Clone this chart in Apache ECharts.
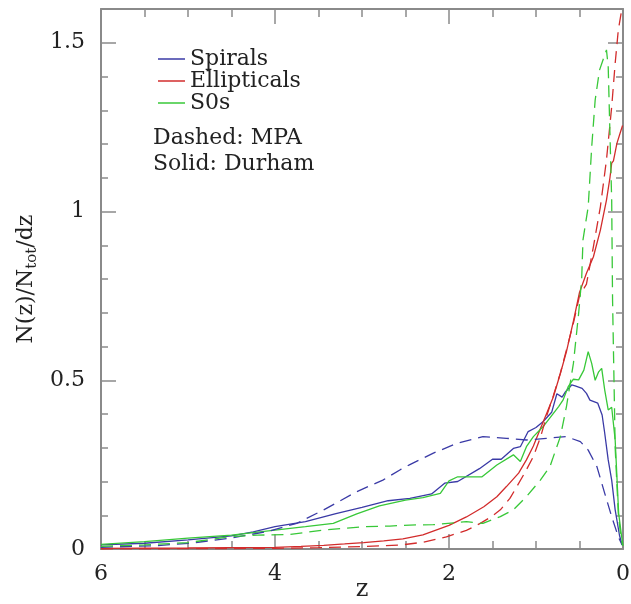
<!DOCTYPE html>
<html>
<head>
<meta charset="utf-8">
<script src="https://cdn.jsdelivr.net/npm/echarts@6/dist/echarts.min.js"></script>
<style>
  html, body { margin: 0; padding: 0; background: #fff; }
  #chart { width: 631px; height: 604px; }
</style>
</head>
<body>
<div id="chart"></div>
<script>
// Redshift distributions N(z)/N_tot/dz by morphological type.
// Each curve: z values and the matching density values.
const morphTypes = ['Spirals', 'Ellipticals', 'S0s'];

// Durham model (solid lines)
const durhamSpiralsZ = [6.0, 5.5, 5.0, 4.5, 4.25, 4.0, 3.65, 3.3, 3.0, 2.7, 2.45, 2.2, 2.05, 1.9, 1.65, 1.5, 1.4, 1.26, 1.18, 1.09, 1.0, 0.92, 0.82, 0.76, 0.70, 0.66, 0.59, 0.55, 0.47, 0.42, 0.38, 0.29, 0.24, 0.21, 0.17, 0.13, 0.09, 0.04, 0.01];
const durhamSpiralsN = [0.012, 0.017, 0.027, 0.039, 0.051, 0.066, 0.081, 0.105, 0.123, 0.143, 0.150, 0.163, 0.195, 0.200, 0.238, 0.266, 0.266, 0.298, 0.303, 0.348, 0.360, 0.377, 0.405, 0.460, 0.450, 0.466, 0.486, 0.483, 0.476, 0.461, 0.441, 0.432, 0.397, 0.343, 0.264, 0.204, 0.116, 0.040, 0.012];

const durhamEllZ = [6.0, 5.0, 4.5, 4.0, 3.7, 3.44, 3.2, 2.98, 2.75, 2.53, 2.3, 2.0, 1.8, 1.6, 1.45, 1.34, 1.2, 1.11, 1.03, 0.95, 0.88, 0.80, 0.72, 0.65, 0.57, 0.50, 0.42, 0.34, 0.26, 0.19, 0.15, 0.13, 0.11, 0.07, 0.03, 0.005];
const durhamEllN = [0.002, 0.003, 0.004, 0.005, 0.008, 0.011, 0.015, 0.019, 0.024, 0.030, 0.042, 0.070, 0.095, 0.125, 0.155, 0.185, 0.225, 0.264, 0.305, 0.356, 0.400, 0.451, 0.520, 0.585, 0.675, 0.760, 0.817, 0.866, 0.945, 1.034, 1.100, 1.143, 1.150, 1.202, 1.235, 1.255];

const durhamS0Z = [6.0, 5.5, 5.0, 4.5, 4.2, 4.0, 3.65, 3.33, 3.06, 2.8, 2.5, 2.3, 2.1, 2.0, 1.9, 1.62, 1.45, 1.26, 1.18, 1.11, 1.03, 0.92, 0.80, 0.74, 0.69, 0.63, 0.57, 0.51, 0.45, 0.40, 0.36, 0.32, 0.28, 0.245, 0.21, 0.17, 0.13, 0.09, 0.05, 0.02, 0.0];
const durhamS0N = [0.014, 0.022, 0.032, 0.041, 0.050, 0.056, 0.066, 0.076, 0.104, 0.128, 0.145, 0.152, 0.165, 0.202, 0.214, 0.214, 0.249, 0.279, 0.259, 0.303, 0.333, 0.362, 0.402, 0.422, 0.441, 0.481, 0.503, 0.501, 0.530, 0.585, 0.550, 0.500, 0.525, 0.535, 0.471, 0.412, 0.420, 0.323, 0.106, 0.045, 0.010];

// MPA model (dashed lines)
const mpaSpiralsZ = [6.0, 5.36, 4.98, 4.52, 4.10, 3.75, 3.44, 3.06, 2.76, 2.56, 2.45, 2.18, 1.91, 1.61, 1.34, 1.11, 0.88, 0.65, 0.49, 0.40, 0.30, 0.21, 0.13, 0.054, 0.01];
const mpaSpiralsN = [0.005, 0.010, 0.017, 0.032, 0.051, 0.076, 0.116, 0.170, 0.204, 0.235, 0.250, 0.284, 0.313, 0.333, 0.328, 0.323, 0.328, 0.333, 0.318, 0.293, 0.244, 0.165, 0.096, 0.036, 0.012];

const mpaEllZ = [6.0, 5.0, 4.0, 3.5, 3.0, 2.55, 2.3, 2.03, 1.8, 1.64, 1.5, 1.41, 1.3, 1.22, 1.12, 1.03, 0.95, 0.88, 0.80, 0.72, 0.65, 0.57, 0.50, 0.42, 0.34, 0.26, 0.19, 0.13, 0.09, 0.054, 0.015];
const mpaEllN = [0.000, 0.001, 0.002, 0.004, 0.007, 0.012, 0.020, 0.036, 0.055, 0.076, 0.098, 0.116, 0.150, 0.185, 0.230, 0.274, 0.330, 0.392, 0.455, 0.521, 0.590, 0.669, 0.750, 0.785, 0.896, 1.014, 1.153, 1.310, 1.439, 1.538, 1.597];

const mpaS0Z = [6.0, 5.5, 5.0, 4.5, 4.2, 3.83, 3.44, 2.98, 2.68, 2.45, 2.18, 1.80, 1.61, 1.41, 1.26, 1.11, 0.95, 0.84, 0.72, 0.65, 0.57, 0.51, 0.475, 0.46, 0.40, 0.36, 0.32, 0.27, 0.23, 0.19, 0.17, 0.15, 0.13, 0.12, 0.10, 0.09, 0.054, 0.03, 0.005];
const mpaS0N = [0.008, 0.012, 0.019, 0.037, 0.041, 0.043, 0.056, 0.066, 0.068, 0.071, 0.072, 0.081, 0.076, 0.096, 0.116, 0.155, 0.204, 0.244, 0.333, 0.422, 0.550, 0.698, 0.800, 0.916, 1.014, 1.190, 1.330, 1.419, 1.449, 1.479, 1.429, 1.230, 1.034, 0.738, 0.450, 0.300, 0.106, 0.047, 0.010];

const xTicks = [0, 2, 4, 6];
const yTicks = [0, 0.5, 1, 1.5];
const noteLines = ['Dashed: MPA', 'Solid: Durham'];

const COLORS = { Spirals: '#3a3aa6', Ellipticals: '#d22c2c', S0s: '#38c838' };
const FONT = 'DejaVu Serif';
const AXIS_GRAY = '#8a8a8a';
const DASH = [12, 7];

function pairs(zs, ns) { return zs.map((z, i) => [z, ns[i]]); }

function lineSeries(name, zs, ns, dashed) {
  return {
    name: dashed ? name + ' (MPA)' : name,
    type: 'line',
    xAxisIndex: 0,
    yAxisIndex: 0,
    data: pairs(zs, ns),
    showSymbol: false,
    symbol: 'none',
    silent: true,
    lineStyle: { color: COLORS[name], width: 1.3, type: dashed ? DASH : 'solid' },
    itemStyle: { color: COLORS[name] },
    z: 3
  };
}

// Frame axes: major ticks (long) and minor ticks (short) on every side.
function xAx(pos, withLabels, interval, tickLen, showLine) {
  return {
    type: 'value', position: pos, inverse: true,
    min: 0, max: 6, interval: interval,
    axisLine: { show: showLine, onZero: false, lineStyle: { color: AXIS_GRAY, width: 2 } },
    axisTick: { show: true, inside: true, length: tickLen, lineStyle: { color: AXIS_GRAY, width: 1.5 } },
    splitLine: { show: false },
    axisLabel: withLabels ? {
      show: true, margin: 14, fontFamily: FONT, fontSize: 22, color: '#222',
      formatter: v => (xTicks.indexOf(+v) >= 0 ? String(+v) : '')
    } : { show: false }
  };
}

function yAx(pos, withLabels, interval, tickLen, showLine) {
  return {
    type: 'value', position: pos,
    min: 0, max: 1.6, interval: interval,
    axisLine: { show: showLine, onZero: false, lineStyle: { color: AXIS_GRAY, width: 2 } },
    axisTick: { show: true, inside: true, length: tickLen, lineStyle: { color: AXIS_GRAY, width: 1.5 } },
    splitLine: { show: false },
    axisLabel: withLabels ? {
      show: true, margin: 16, fontFamily: FONT, fontSize: 22, color: '#222',
      showMaxLabel: false,
      formatter: v => (yTicks.indexOf(+v.toFixed(2)) >= 0 ? String(+v.toFixed(2)) : '')
    } : { show: false }
  };
}

const chart = echarts.init(document.getElementById('chart'), null, { renderer: 'canvas' });

const xMain = xAx('bottom', true, 2, 15, true);
xMain.name = 'z';
xMain.nameLocation = 'middle';
xMain.nameGap = 29;
xMain.nameMoveOverlap = false;
xMain.nameTextStyle = { fontFamily: FONT, fontSize: 24, color: '#222' };

const yMain = yAx('left', true, 0.5, 15, true);
yMain.name = 'N(z)/N{sub|tot}/dz';
yMain.nameLocation = 'middle';
yMain.nameRotate = 90;
yMain.nameGap = 56;
yMain.nameTextStyle = {
  fontFamily: FONT, fontSize: 22, color: '#222',
  rich: { sub: { fontFamily: FONT, fontSize: 15, color: '#222', padding: [10, 0, 0, 0] } }
};

chart.setOption({
  animation: false,
  backgroundColor: '#ffffff',
  grid: { left: 101, right: 8, top: 9, bottom: 55, containLabel: false, outerBoundsMode: 'none' },
  xAxis: [
    xMain,
    xAx('top', false, 2, 15, true),
    xAx('bottom', false, 0.5, 8, false),
    xAx('top', false, 0.5, 8, false)
  ],
  yAxis: [
    yMain,
    yAx('right', false, 0.5, 15, true),
    yAx('left', false, 0.1, 7, false),
    yAx('right', false, 0.1, 7, false)
  ],
  legend: {
    data: morphTypes,
    orient: 'vertical',
    left: 153,
    top: 43,
    icon: 'rect',
    itemWidth: 27,
    itemHeight: 1.5,
    itemGap: 0,
    selectedMode: false,
    textStyle: { fontFamily: FONT, fontSize: 22, color: '#222', lineHeight: 21 }
  },
  graphic: [{
    type: 'text',
    left: 153,
    top: 125,
    silent: true,
    style: {
      text: noteLines.join('\n'),
      font: '22px "' + FONT + '"',
      lineHeight: 26,
      fill: '#222'
    }
  }],
  series: [
    lineSeries('Spirals', durhamSpiralsZ, durhamSpiralsN, false),
    lineSeries('Ellipticals', durhamEllZ, durhamEllN, false),
    lineSeries('S0s', durhamS0Z, durhamS0N, false),
    lineSeries('Spirals', mpaSpiralsZ, mpaSpiralsN, true),
    lineSeries('Ellipticals', mpaEllZ, mpaEllN, true),
    lineSeries('S0s', mpaS0Z, mpaS0N, true)
  ]
});
</script>
</body>
</html>
